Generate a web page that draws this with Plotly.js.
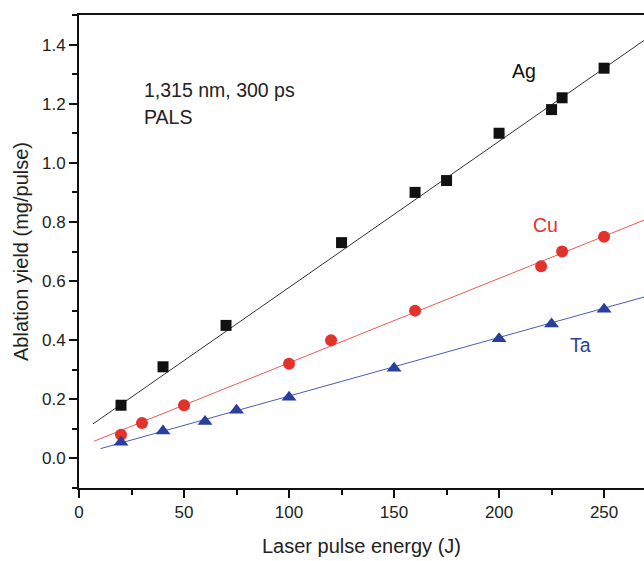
<!DOCTYPE html>
<html>
<head>
<meta charset="utf-8">
<script src="https://cdn.plot.ly/plotly-3.0.1.min.js"></script>
<style>
html,body{margin:0;padding:0;background:#fff;}
#chart{width:644px;height:561px;}
</style>
</head>
<body>
<div id="chart"></div>
<script>
// Measured data (laser pulse energy in J, ablation yield in mg/pulse)
const agEnergy = [20, 40, 70, 125, 160, 175, 200, 225, 230, 250];
const agYield  = [0.18, 0.31, 0.45, 0.73, 0.90, 0.94, 1.10, 1.18, 1.22, 1.32];

const cuEnergy = [20, 30, 50, 100, 120, 160, 220, 230, 250];
const cuYield  = [0.08, 0.12, 0.18, 0.32, 0.40, 0.50, 0.65, 0.70, 0.75];

const taEnergy = [20, 40, 60, 75, 100, 150, 200, 225, 250];
const taYield  = [0.055, 0.093, 0.125, 0.163, 0.207, 0.305, 0.405, 0.455, 0.505];

// Fitted lines, endpoints
const agFitX = [6.7, 269];
const agFitY = [0.117, 1.414];
const cuFitX = [7.1, 269];
const cuFitY = [0.058, 0.806];
const taFitX = [10.2, 269];
const taFitY = [0.033, 0.546];

const xTicks = [0, 50, 100, 150, 200, 250];
const yTicks = [0.0, 0.2, 0.4, 0.6, 0.8, 1.0, 1.2, 1.4];

const FONT = '"Liberation Sans", Arial, Helvetica, sans-serif';
const BLACK = '#111111';
const RED = '#e3312b';
const BLUE = '#2a3f9d';
const TXT = '#222222';

const traces = [
  {x: agFitX, y: agFitY, mode: 'lines', line: {color: '#333333', width: 1}, hoverinfo: 'skip'},
  {x: cuFitX, y: cuFitY, mode: 'lines', line: {color: '#ee5a55', width: 1}, hoverinfo: 'skip'},
  {x: taFitX, y: taFitY, mode: 'lines', line: {color: '#4a5cb8', width: 1}, hoverinfo: 'skip'},
  {x: agEnergy, y: agYield, mode: 'markers', name: 'Ag',
   marker: {symbol: 'square', size: 11, color: BLACK}},
  {x: cuEnergy, y: cuYield, mode: 'markers', name: 'Cu',
   marker: {symbol: 'circle', size: 12, color: RED}},
  {x: taEnergy, y: taYield, mode: 'markers', name: 'Ta',
   marker: {symbol: 'triangle-up', size: 13, color: BLUE}}
];

const layout = {
  width: 644, height: 561,
  margin: {l: 79, r: 0, t: 15, b: 73},
  paper_bgcolor: '#ffffff', plot_bgcolor: '#ffffff',
  showlegend: false,
  font: {family: FONT, color: TXT, size: 17},
  xaxis: {
    range: [0, 269], showgrid: false, zeroline: false,
    showline: true, linecolor: '#111', linewidth: 2, mirror: true,
    ticks: 'outside', ticklen: 8, tickwidth: 2, tickcolor: '#111',
    tickvals: xTicks, ticktext: xTicks.map(String),
    minor: {ticks: 'outside', ticklen: 5, tickwidth: 2, tickcolor: '#111', dtick: 25, tick0: 0, showgrid: false},
    tickfont: {size: 17, family: FONT, color: TXT},
    title: {text: 'Laser pulse energy (J)', font: {size: 20, family: FONT, color: TXT}, standoff: 18}
  },
  yaxis: {
    range: [-0.1, 1.5], showgrid: false, zeroline: false,
    showline: true, linecolor: '#111', linewidth: 2,
    ticks: 'outside', ticklen: 8, tickwidth: 2, tickcolor: '#111',
    tickvals: yTicks, ticktext: yTicks.map(v => v.toFixed(1)),
    minor: {ticks: 'outside', ticklen: 5, tickwidth: 2, tickcolor: '#111', dtick: 0.1, tick0: 0, showgrid: false},
    tickfont: {size: 17, family: FONT, color: TXT},
    title: {text: 'Ablation yield (mg/pulse)', font: {size: 20, family: FONT, color: TXT}, standoff: 8}
  },
  annotations: [
    {x: 30.1, y: 1.248, xanchor: 'left', yanchor: 'middle', showarrow: false,
     text: '1,315 nm, 300 ps', font: {size: 19.5, family: FONT, color: TXT}},
    {x: 30.1, y: 1.154, xanchor: 'left', yanchor: 'middle', showarrow: false,
     text: 'PALS', font: {size: 19.5, family: FONT, color: TXT}},
    {x: 212, y: 1.31, xanchor: 'center', yanchor: 'middle', showarrow: false,
     text: 'Ag', font: {size: 19.5, family: FONT, color: BLACK}},
    {x: 222, y: 0.79, xanchor: 'center', yanchor: 'middle', showarrow: false,
     text: 'Cu', font: {size: 19.5, family: FONT, color: RED}},
    {x: 239, y: 0.385, xanchor: 'center', yanchor: 'middle', showarrow: false,
     text: 'Ta', font: {size: 19.5, family: FONT, color: BLUE}}
  ]
};

Plotly.newPlot('chart', traces, layout, {displayModeBar: false, staticPlot: true});
</script>
</body>
</html>
